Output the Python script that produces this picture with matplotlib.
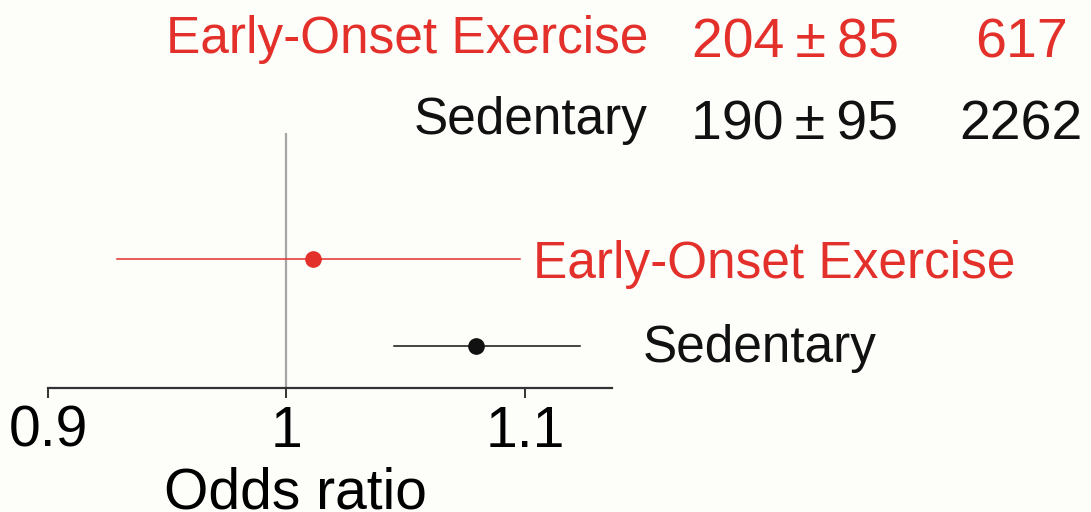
import matplotlib

matplotlib.use("Agg")
from matplotlib import pyplot as plt  # noqa: E402

# Forest plot data: group, odds ratio, 95% CI, summary stat (mean ± SD) and n
groups = ["Sedentary", "Early-Onset Exercise"]
odds = [1.0795, 1.0113]
ci_low = [1.045, 0.929]
ci_high = [1.123, 1.098]
mean_val = [190, 204]
sd_val = [95, 85]
n_val = [2262, 617]

RED = "#E3302B"
BLACK = "#111111"
colors = [BLACK, RED]
BG = "#FDFDFA"
FONT = ["Liberation Sans", "DejaVu Sans"]

W, H = 1091, 512
fig = plt.figure(figsize=(W / 100, H / 100), dpi=100)
fig.patch.set_facecolor(BG)

# axes placed in pixel terms: x 48..612, bottom spine at y=388, top at y=133
ax = fig.add_axes([48 / W, 1 - 388 / H, 564 / W, 255 / H])
ax.set_facecolor(BG)
ax.set_xlim(0.9, 1.1365)
ax.set_ylim(-0.483, 2.448)

ax.axvline(1.0, color="#A5A5A5", lw=1.6, zorder=1)
for i, g in enumerate(groups):
    ax.plot([ci_low[i], ci_high[i]], [i, i], color=colors[i], lw=1.1, zorder=2)
    ax.plot(odds[i], i, "o", color=colors[i], ms=11, zorder=3)

for s in ("top", "right", "left"):
    ax.spines[s].set_visible(False)
ax.spines["bottom"].set_color("#333333")
ax.spines["bottom"].set_linewidth(1.6)
ax.set_yticks([])
ax.set_xticks([0.9, 1.0, 1.1])
ax.set_xticklabels(["0.9", "1", "1.1"])
ax.tick_params(axis="x", direction="out", length=7, width=1.4,
               color="#333333", pad=5, labelsize=41)
for lab in ax.get_xticklabels():
    lab.set_fontfamily(FONT)

ax.set_xlabel("Odds ratio", fontsize=41, fontfamily=FONT, va="baseline")
ax.xaxis.set_label_coords(0.438, -0.471)


def px(x, y):
    return x / W, 1 - y / H


# labels beside the CI lines
row_label_x = [643, 533]
row_label_y = [362, 278]
for i, g in enumerate(groups):
    fig.text(*px(row_label_x[i], row_label_y[i]), g, color=colors[i],
             fontsize=37, fontfamily=FONT, va="baseline", ha="left")

# summary table at the top
name_y = [134, 53]
num_y = [140, 58]
for i, g in enumerate(groups):
    fig.text(*px(648, name_y[i]), g, color=colors[i], fontsize=37,
             fontfamily=FONT, va="baseline", ha="right")
    fig.text(*px(795, num_y[i]), f"{mean_val[i]}\u2009\u00b1\u2009{sd_val[i]}",
             color=colors[i], fontsize=40, fontfamily=FONT,
             va="baseline", ha="center")
    fig.text(*px(1021, num_y[i]), f"{n_val[i]}", color=colors[i],
             fontsize=40, fontfamily=FONT, va="baseline", ha="center")

fig.savefig("out.png", facecolor=BG)
